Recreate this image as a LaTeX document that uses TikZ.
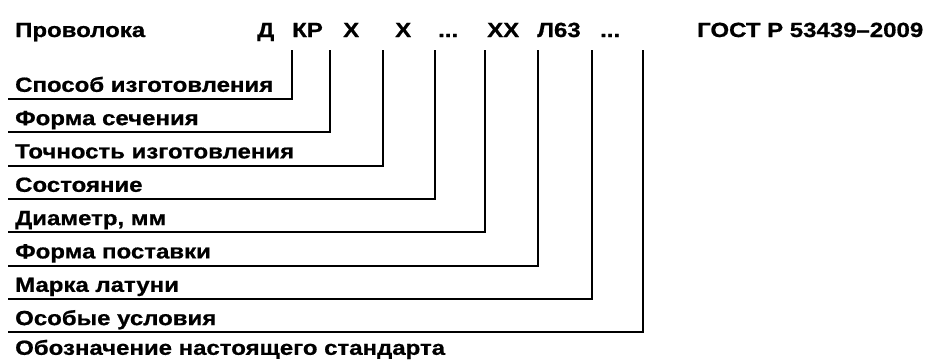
\documentclass[tikz,border=0pt]{standalone}
\usepackage{fontspec}
\setmainfont{Liberation Sans}[FakeStretch=1.17, BoldFeatures={FakeBold=0.8}]
\usepackage{tikz}
\usetikzlibrary{positioning}

\newcommand{\skipmark}{...}

\tikzset{
  mark text/.style={font=\fontsize{20.5}{23}\selectfont\bfseries, inner sep=0pt, anchor=base west},
  field/.style={font=\fontsize{20.5}{23}\selectfont\bfseries, inner xsep=7pt, inner ysep=7pt, text depth=0pt, anchor=south west},
  lead/.style={line width=2.2pt}
}

\begin{document}
\begin{tikzpicture}[x=1pt, y=-1pt]
    \useasboundingbox (0,0) rectangle (942,360);

    % Header line
    \node[mark text] (wire) at (15,37) {Проволока};
    \node[mark text] (gost) at (697,37) {ГОСТ Р 53439--2009};

    % Code letters
    \foreach \name/\x/\code in {cD/257/Д, cKR/292/КР, cX/343/Х, cXa/395/Х, cDots/438/\skipmark, cXX/487/ХХ, cL/537/Л63, cDotsb/600/\skipmark} {
      \node[mark text] (\name) at (\x,37) {\code};
    }

    % Tops of the leaders
    \foreach \i/\x in {1/292, 2/330, 3/383, 4/435, 5/485, 6/538, 7/592, 8/643} {
      \coordinate (top\i) at (\x,50);
    }

    % Fields with leaders
    \foreach \i/\y/\txt in {1/99/Способ изготовления, 2/132.3/Форма сечения, 3/165.6/Точность изготовления, 4/199/Состояние, 5/232.3/{Диаметр, мм}, 6/265.6/Форма поставки, 7/299/Марка латуни, 8/332.3/Особые условия} {
      \node[field] (f\i) at (8,\y) {\txt};
      \draw[lead] (f\i.south west) -| (top\i);
    }

    % Last field
    \node[field] (f9) at (8,362) {Обозначение настоящего стандарта};
\end{tikzpicture}
\end{document}
